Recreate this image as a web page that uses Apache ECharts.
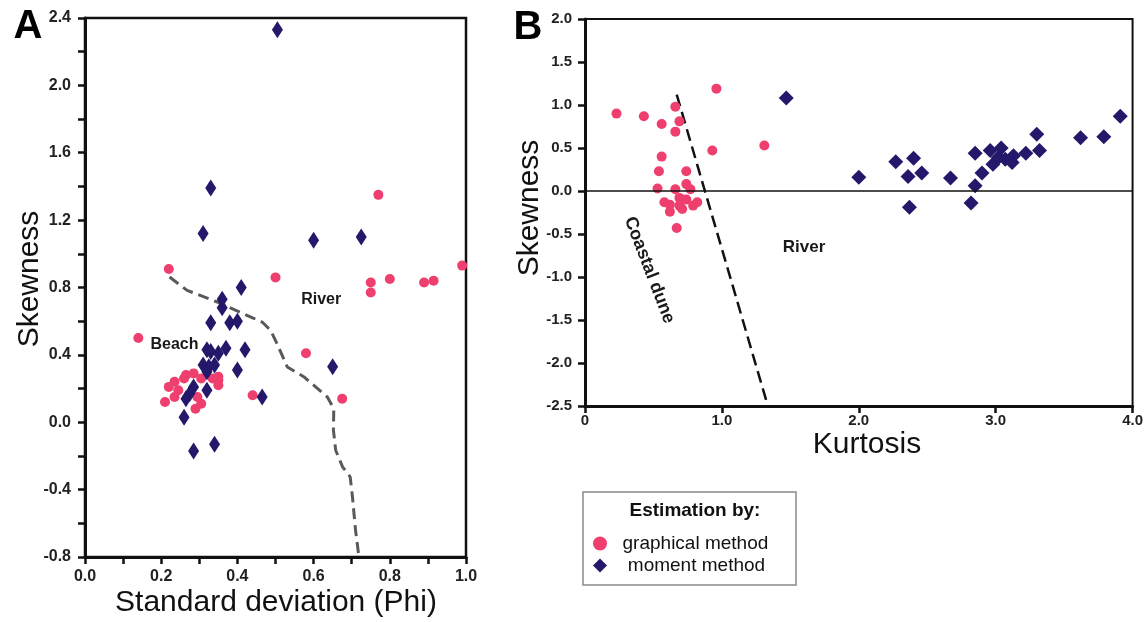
<!DOCTYPE html>
<html>
<head>
<meta charset="utf-8">
<script src="https://cdn.jsdelivr.net/npm/echarts@6/dist/echarts.min.js"></script>
<style>
  html, body { margin: 0; padding: 0; background: #fff; }
  #chart { width: 1146px; height: 622px; }
</style>
</head>
<body>
<div id="chart"></div>
<script>
// ---- Panel A: standard deviation (phi) vs skewness ----
const sdGraphical = [
  [0.22, 0.91], [0.14, 0.50], [0.50, 0.86], [0.44, 0.16],
  [0.21, 0.12], [0.22, 0.21], [0.235, 0.24], [0.245, 0.19], [0.235, 0.15],
  [0.26, 0.26], [0.265, 0.28], [0.285, 0.29], [0.305, 0.26], [0.29, 0.08],
  [0.305, 0.11], [0.295, 0.15], [0.335, 0.26], [0.35, 0.27], [0.35, 0.22],
  [0.35, 0.25], [0.77, 1.35], [0.75, 0.83], [0.75, 0.77], [0.80, 0.85],
  [0.89, 0.83], [0.915, 0.84], [0.99, 0.93], [0.58, 0.41], [0.675, 0.14]
];
const sdMoment = [
  [0.505, 2.33], [0.33, 1.39], [0.31, 1.12], [0.41, 0.80], [0.36, 0.73],
  [0.36, 0.68], [0.33, 0.59], [0.38, 0.59], [0.40, 0.60], [0.37, 0.44],
  [0.42, 0.43], [0.40, 0.31], [0.32, 0.43], [0.33, 0.42], [0.35, 0.41],
  [0.31, 0.34], [0.325, 0.33], [0.34, 0.34], [0.32, 0.30], [0.32, 0.19],
  [0.285, 0.21], [0.275, 0.17], [0.265, 0.14], [0.26, 0.03], [0.285, -0.17],
  [0.34, -0.13], [0.465, 0.15], [0.60, 1.08], [0.725, 1.10], [0.65, 0.33]
];
const beachRiverLine = [
  [0.222, 0.862], [0.268, 0.783], [0.347, 0.714], [0.44, 0.62], [0.465, 0.595],
  [0.487, 0.546], [0.504, 0.467], [0.531, 0.328], [0.575, 0.269], [0.636, 0.15],
  [0.653, 0.081], [0.652, -0.047], [0.658, -0.166], [0.676, -0.265], [0.696, -0.324],
  [0.702, -0.443], [0.71, -0.64], [0.719, -0.8]
];
const labelsA = [
  { name: 'River', value: [0.62, 0.73] },
  { name: 'Beach', value: [0.235, 0.46] }
];

// ---- Panel B: kurtosis vs skewness ----
const kurtGraphical = [
  [0.96, 1.19], [0.23, 0.90], [0.43, 0.87], [0.66, 0.98], [0.56, 0.78],
  [0.69, 0.81], [0.66, 0.69], [0.93, 0.47], [1.31, 0.53], [0.56, 0.40],
  [0.54, 0.23], [0.74, 0.23], [0.53, 0.03], [0.66, 0.02], [0.74, 0.08],
  [0.77, 0.02], [0.58, -0.13], [0.62, -0.16], [0.62, -0.24], [0.69, -0.17],
  [0.69, -0.08], [0.74, -0.10], [0.71, -0.21], [0.82, -0.13], [0.79, -0.17],
  [0.67, -0.43]
];
const kurtMoment = [
  [1.47, 1.08], [2.0, 0.16], [2.27, 0.34], [2.40, 0.38], [2.36, 0.17],
  [2.46, 0.21], [2.37, -0.19], [2.67, 0.15], [2.85, 0.44], [2.90, 0.21],
  [2.85, 0.06], [2.82, -0.14], [2.96, 0.47], [3.04, 0.50], [2.98, 0.31],
  [3.07, 0.37], [3.13, 0.41], [3.12, 0.33], [3.02, 0.39], [3.22, 0.44],
  [3.32, 0.47], [3.30, 0.66], [3.62, 0.62], [3.79, 0.63], [3.91, 0.87]
];
const duneRiverLine = [[0.67, 1.12], [1.336, -2.5]];
const labelsB = [
  { name: 'River', value: [1.6, -0.65] }
];

const PINK = '#EE3F6E';
const NAVY = '#24186A';
const FONT = '"Liberation Sans", Arial, sans-serif';
const INK = '#111';

function axisBase(labelSize, margin, fmt) {
  return {
    type: 'value',
    splitLine: { show: false },
    axisLine: { show: true, onZero: false, lineStyle: { color: INK, width: 3 } },
    axisTick: { show: true, length: 7, lineStyle: { color: INK, width: 2.5 } },
    axisLabel: {
      fontFamily: FONT, fontWeight: 'bold', fontSize: labelSize,
      color: '#222', margin: margin, formatter: fmt
    }
  };
}

function textSeries(xi, data, size, rotate) {
  return {
    type: 'scatter', xAxisIndex: xi, yAxisIndex: xi, data: data,
    symbolSize: 0, silent: true, z: 5,
    itemStyle: { opacity: 1 },
    label: { show: true, position: 'inside', formatter: '{b}', rotate: rotate || 0,
             fontFamily: FONT, fontWeight: 'bold', fontSize: size, color: '#1a1a1a' }
  };
}

const chart = echarts.init(document.getElementById('chart'), null, { renderer: 'canvas' });

chart.setOption({
  backgroundColor: '#fff',
  animation: false,
  grid: [
    { left: 85, top: 18, width: 381, height: 539, show: true, borderColor: INK, borderWidth: 2.5, backgroundColor: 'transparent' },
    { left: 585, top: 19, width: 548, height: 387, show: true, borderColor: INK, borderWidth: 2, backgroundColor: 'transparent' }
  ],
  xAxis: [
    Object.assign(axisBase(16, 12, v => (Math.round(v * 10) % 2 === 0 ? v.toFixed(1) : '')),
      { gridIndex: 0, min: 0, max: 1, interval: 0.1 }),
    Object.assign(axisBase(15, 7, v => (v === 0 ? '0' : v.toFixed(1))),
      { gridIndex: 1, min: 0, max: 4, interval: 1 })
  ],
  yAxis: [
    Object.assign(axisBase(16, 14, v => (Math.round(v * 10) % 4 === 0 ? v.toFixed(1) : '')),
      { gridIndex: 0, min: -0.8, max: 2.4, interval: 0.2 }),
    Object.assign(axisBase(15, 13, v => v.toFixed(1)),
      { gridIndex: 1, min: -2.5, max: 2, interval: 0.5 })
  ],
  legend: {
    orient: 'vertical',
    left: 588, top: 529,
    itemWidth: 14, itemHeight: 14, itemGap: 3,
    textStyle: { fontFamily: FONT, fontSize: 19, color: INK },
    data: [
      { name: 'graphical method', icon: 'circle' },
      { name: 'moment method', icon: 'diamond' }
    ],
    formatter: n => (n === 'graphical method' ? '  ' + n : '   ' + n)
  },
  series: [
    {
      type: 'line', xAxisIndex: 0, yAxisIndex: 0, data: beachRiverLine,
      symbol: 'none', silent: true, z: 1,
      lineStyle: { color: '#595959', width: 3, type: [11, 6] }
    },
    {
      name: 'graphical method', type: 'scatter', xAxisIndex: 0, yAxisIndex: 0,
      data: sdGraphical, symbol: 'circle', symbolSize: 10,
      itemStyle: { color: PINK, opacity: 1 }, z: 3
    },
    {
      name: 'moment method', type: 'scatter', xAxisIndex: 0, yAxisIndex: 0,
      data: sdMoment, symbol: 'diamond', symbolSize: [11, 17],
      itemStyle: { color: NAVY, opacity: 1 }, z: 4
    },
    textSeries(0, labelsA, 16),
    {
      type: 'line', xAxisIndex: 1, yAxisIndex: 1, data: duneRiverLine,
      symbol: 'none', silent: true, z: 2,
      lineStyle: { color: INK, width: 2.5, type: [12, 6] },
      markLine: {
        silent: true, symbol: 'none', label: { show: false },
        lineStyle: { color: INK, width: 1.5, type: 'solid' },
        data: [{ yAxis: 0 }]
      }
    },
    {
      name: 'graphical method', type: 'scatter', xAxisIndex: 1, yAxisIndex: 1,
      data: kurtGraphical, symbol: 'circle', symbolSize: 10,
      itemStyle: { color: PINK, opacity: 1 }, z: 3
    },
    {
      name: 'moment method', type: 'scatter', xAxisIndex: 1, yAxisIndex: 1,
      data: kurtMoment, symbol: 'diamond', symbolSize: [15, 15],
      itemStyle: { color: NAVY, opacity: 1 }, z: 4
    },
    textSeries(1, labelsB, 17),
    textSeries(1, [{ name: 'Coastal dune', value: [0.47, -0.92] }], 18, -69)
  ],
  graphic: [
    { type: 'text', x: 28, y: 27, style: { text: 'A', font: 'bold 40px ' + FONT, fill: '#000', align: 'center', verticalAlign: 'middle' } },
    { type: 'text', x: 528, y: 28, style: { text: 'B', font: 'bold 40px ' + FONT, fill: '#000', align: 'center', verticalAlign: 'middle' } },
    { type: 'text', x: 30, y: 279, rotation: Math.PI / 2, style: { text: 'Skewness', font: '30px ' + FONT, fill: INK, align: 'center', verticalAlign: 'middle' } },
    { type: 'text', x: 530, y: 208, rotation: Math.PI / 2, style: { text: 'Skewness', font: '30px ' + FONT, fill: INK, align: 'center', verticalAlign: 'middle' } },
    { type: 'text', x: 276, y: 603, style: { text: 'Standard deviation (Phi)', font: '30px ' + FONT, fill: INK, align: 'center', verticalAlign: 'middle' } },
    { type: 'text', x: 867, y: 445, style: { text: 'Kurtosis', font: '30px ' + FONT, fill: INK, align: 'center', verticalAlign: 'middle' } },
    { type: 'rect', shape: { x: 583, y: 492, width: 213, height: 93 }, style: { fill: 'none', stroke: '#8a8a8a', lineWidth: 1.5 }, z: 0 },
    { type: 'text', x: 695, y: 511, style: { text: 'Estimation by:', font: 'bold 19px ' + FONT, fill: INK, align: 'center', verticalAlign: 'middle' } }
  ]
});
</script>
</body>
</html>
